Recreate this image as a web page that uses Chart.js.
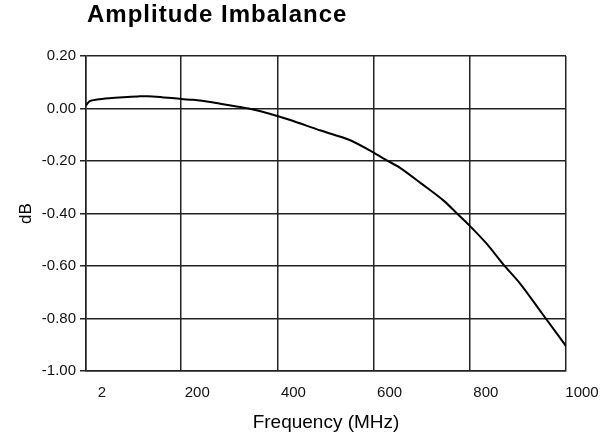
<!DOCTYPE html>
<html>
<head>
<meta charset="utf-8">
<script src="https://cdn.jsdelivr.net/npm/chart.js@4"></script>
<style>
    html, body { margin: 0; padding: 0; background: #fff; }
    #wrap { width: 614px; height: 439px; position: relative; }
</style>
</head>
<body>
<div id="wrap"><canvas id="chart"></canvas></div>
<script>
// Data
const frequency = [2, 10, 25, 50, 80, 110, 130, 160, 200, 225, 260, 300, 340, 380, 425, 490, 550, 600, 625, 655, 700, 745, 775, 800, 835, 870, 905, 950, 1000];
const imbalance = [0.012, 0.028, 0.034, 0.039, 0.043, 0.046, 0.047, 0.043, 0.036, 0.033, 0.025, 0.012, 0.000, -0.018, -0.043, -0.084, -0.120, -0.168, -0.195, -0.226, -0.287, -0.350, -0.403, -0.447, -0.515, -0.595, -0.668, -0.780, -0.905];
const xTicks = [2, 200, 400, 600, 800, 1000];
const xTickLabels = ['2', '200', '400', '600', '800', '1000'];
const yTicks = [0.2, 0, -0.2, -0.4, -0.6, -0.8, -1.0];

const titlePlugin = {
    id: 'plotTitle',
    afterDraw(chart) {
        const ctx = chart.ctx;
        ctx.save();
        ctx.letterSpacing = '1px';
        ctx.font = 'bold 24px "Liberation Sans", Arial, sans-serif';
        ctx.fillStyle = '#000';
        ctx.textBaseline = 'alphabetic';
        ctx.textAlign = 'left';
        ctx.fillText('Amplitude Imbalance', 87, 22);
        ctx.restore();
    }
};

const font = { family: '"Liberation Sans", Arial, sans-serif', size: 15 };

new Chart(document.getElementById('chart'), {
    type: 'line',
    data: {
        datasets: [{
            data: frequency.map((f, i) => ({ x: f, y: imbalance[i] })),
            borderColor: '#000',
            borderWidth: 2,
            pointRadius: 0,
            tension: 0.3,
            fill: false
        }]
    },
    options: {
        responsive: true,
        maintainAspectRatio: false,
        animation: false,
        layout: { padding: { top: 56, right: 48, left: 0, bottom: 0 } },
        plugins: { legend: { display: false }, tooltip: { enabled: false } },
        scales: {
            x: {
                type: 'linear',
                min: 2,
                max: 1000,
                afterBuildTicks: scale => { scale.ticks = xTicks.map(v => ({ value: v })); },
                afterFit: scale => { scale.height = 68; },
                ticks: {
                    color: '#111',
                    font: font,
                    padding: 13,
                    labelOffset: 16,
                    maxRotation: 0,
                    autoSkip: false,
                    callback: (v, i) => xTickLabels[i]
                },
                grid: { color: '#222', lineWidth: 1.5, drawTicks: false },
                border: { color: '#222', width: 1.5 },
                title: {
                    display: true,
                    text: 'Frequency (MHz)',
                    color: '#000',
                    font: { family: font.family, size: 19 },
                    padding: { top: 0, bottom: 5 }
                }
            },
            y: {
                min: -1.0,
                max: 0.2,
                afterBuildTicks: scale => { scale.ticks = yTicks.map(v => ({ value: v })); },
                afterFit: scale => { scale.width = 86; },
                ticks: {
                    color: '#111',
                    font: font,
                    padding: 4,
                    callback: v => v.toFixed(2)
                },
                grid: { color: '#222', lineWidth: 1.5, tickLength: 6 },
                border: { color: '#222', width: 1.5 },
                title: {
                    display: true,
                    text: 'dB',
                    color: '#000',
                    font: { family: font.family, size: 17 },
                    padding: { top: 16, bottom: 0 }
                }
            }
        }
    },
    plugins: [titlePlugin]
});
</script>
</body>
</html>
